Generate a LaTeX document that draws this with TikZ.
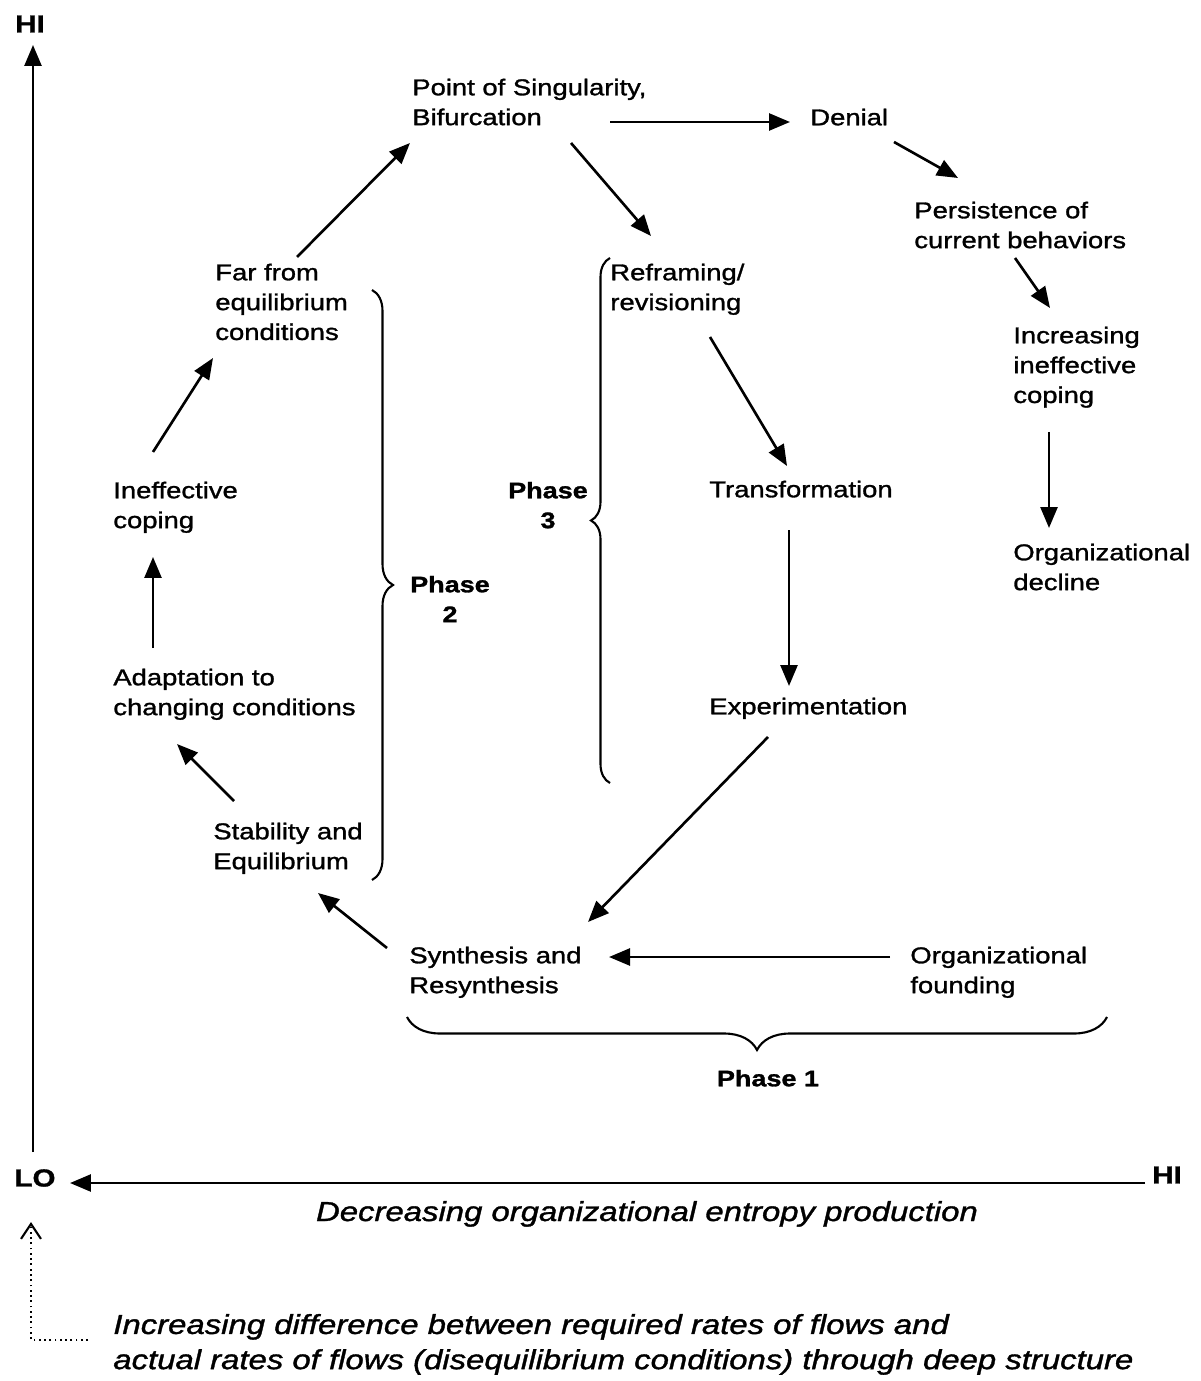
\documentclass[tikz,border=0pt]{standalone}
\usepackage{fontspec}
\setmainfont{Liberation Sans}[FakeStretch=1.2,FakeBold=1.3]
\usetikzlibrary{arrows.meta,decorations.pathreplacing}
\begin{document}
\begin{tikzpicture}[x=0.02cm,y=-0.02cm,
  lbl/.style={anchor=north west,inner sep=0pt,align=left,font=\fontsize{13}{17}\selectfont},
  phase/.style={anchor=north,inner sep=0pt,align=center,font=\fontsize{12.8}{17}\selectfont\bfseries},
  axislbl/.style={inner sep=0pt,font=\fontsize{14}{15}\selectfont\bfseries},
  axisnote/.style={inner sep=0pt,font=\fontsize{15.6}{20}\selectfont\itshape},
  arr/.style={line width=1.5pt,-{Triangle[length=0.42cm,width=0.34cm]}},
  brc/.style={line width=1.2pt,decorate,decoration={brace,amplitude=#1}}]
\useasboundingbox (0,0) rectangle (1200,1381);

% axis labels
\node[axislbl] (hitop) at (30,24) {HI};
\node[axislbl] (lo) at (35,1178) {LO};
\node[axislbl] (hiright) at (1167,1175) {HI};

% stages
\node[lbl] (point) at (412,74) {\strut Point of Singularity,\\Bifurcation};
\node[lbl] (denial) at (810,104) {\strut Denial};
\node[lbl] (persist) at (914,197) {\strut Persistence of\\current behaviors};
\node[lbl] (incr) at (1013,322) {\strut Increasing\\ineffective\\coping};
\node[lbl] (decline) at (1013,539) {\strut Organizational\\decline};
\node[lbl] (refr) at (610,259) {\strut Reframing/\\revisioning};
\node[lbl] (transf) at (709,476) {\strut Transformation};
\node[lbl] (exper) at (709,693) {\strut Experimentation};
\node[lbl] (far) at (215,259) {\strut Far from\\equilibrium\\conditions};
\node[lbl] (ineff) at (113,477) {\strut Ineffective\\coping};
\node[lbl] (adapt) at (113,664) {\strut Adaptation to\\changing conditions};
\node[lbl] (stab) at (213,818) {\strut Stability and\\Equilibrium};
\node[lbl] (synth) at (409,942) {\strut Synthesis and\\Resynthesis};
\node[lbl] (found) at (910,942) {\strut Organizational\\founding};

% phase labels
\node[phase] (ph2) at (450,571) {\strut Phase\\2};
\node[phase] (ph3) at (548,477) {\strut Phase\\3};
\node[phase] (ph1) at (768,1065) {\strut Phase 1};

% phase braces
\draw[brc=0.42cm] (372,290) -- (372,880);
\draw[brc=0.38cm] (610,783) -- (610,258);
\draw[brc=0.66cm] (1107,1017) -- (407,1017);

% cycle arrows
\draw[arr] ([shift={(82,-2)}]far.north west) -- ([shift={(-2,69)}]point.north west);
\draw[arr] ([shift={(40,-25)}]ineff.north west) -- ([shift={(-2,99)}]far.north west);
\draw[arr] ([shift={(40,-16)}]adapt.north west) -- ([shift={(40,80)}]ineff.north west);
\draw[arr] ([shift={(21,-17)}]stab.north west) -- ([shift={(64,80)}]adapt.north west);
\draw[arr] ([shift={(-22,6)}]synth.north west) -- ([shift={(105,75)}]stab.north west);
\draw[arr] ([shift={(59,44)}]exper.north west) -- ([shift={(179,-20)}]synth.north west);
\draw[arr] ([shift={(-20,15)}]found.north west) -- ([shift={(200,15)}]synth.north west);
\draw[arr] ([shift={(159,69)}]point.north west) -- ([shift={(41,-23)}]refr.north west);
\draw[arr] ([shift={(198,48)}]point.north west) -- ([shift={(-20,18)}]denial.north west);
\draw[arr] ([shift={(84,38)}]denial.north west) -- ([shift={(44,-19)}]persist.north west);
\draw[arr] ([shift={(101,61)}]persist.north west) -- ([shift={(37,-14)}]incr.north west);
\draw[arr] ([shift={(36,110)}]incr.north west) -- ([shift={(36,-11)}]decline.north west);
\draw[arr] ([shift={(100,78)}]refr.north west) -- ([shift={(78,-10)}]transf.north west);
\draw[arr] ([shift={(80,54)}]transf.north west) -- ([shift={(80,-7)}]exper.north west);

% axes
\draw[arr] ([shift={(-2,-26)}]lo.center) -- ([shift={(3,21)}]hitop.center);
\draw[arr] ([shift={(-22,8)}]hiright.center) -- ([shift={(35,5)}]lo.center);

% axis captions
\node[axisnote,anchor=base] (xcap) at (647,1221) {Decreasing organizational entropy production};
\node[axisnote,anchor=north west,align=left] (note) at (113,1309)
  {\strut Increasing difference between required rates of flows and\\actual rates of flows (disequilibrium conditions) through deep structure};

% dotted pointer from the caption up to LO
\coordinate (noteend) at ([shift={(-25,31)}]note.north west);
\draw[dotted,line width=1pt,-{Straight Barb[length=0.3cm,width=0.4cm,line width=1.2pt]}]
  (noteend) -| ([shift={(-4,44)}]lo.center);
\end{tikzpicture}
\end{document}
